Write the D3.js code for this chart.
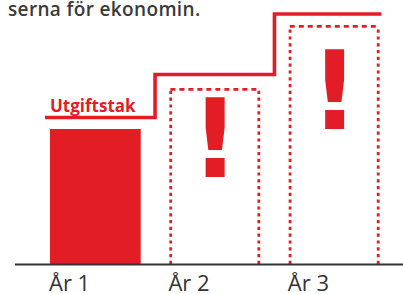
<!DOCTYPE html>
<html><head><meta charset="utf-8">
<script src="https://cdn.jsdelivr.net/npm/d3@7"></script>
<style>html,body{margin:0;padding:0;background:#fff;overflow:hidden}</style>
</head><body>
<svg id="c" width="403" height="294"></svg>
<script>
// ---- data ----
const title = "serna för ekonomin.";
const categories = ["År 1", "År 2", "År 3"];
const actualSpending = [54, null, null];          // solid bar (År 1)
const projectedSpending = [null, 70.4, 95.6];     // dotted outlines
const spendingCeiling = [58.6, 75.8, 100];        // Utgiftstak
const ceilingLabel = "Utgiftstak";
const warning = "!";

// ---- layout ----
const red = "#e31d25";
const svg = d3.select("#c");
const axisY = 264;
const x = d3.scaleBand().domain(categories).range([50, 379.5]).paddingInner(0.24).paddingOuter(0);
const y = d3.scaleLinear().domain([0, 100]).range([axisY, 14]);
const bw = x.bandwidth();
const exclaimDrop = [0, 10, 25];

// title
svg.append("text").attr("x", 8).attr("y", 15.5)
  .attr("font-family", "Open Sans").attr("font-weight", 600).attr("font-size", 19)
  .attr("letter-spacing", 0.35)
  .attr("fill", "#3a3a3a").text(title);

// solid bars
svg.selectAll("rect.bar").data(categories.map((c, i) => ({c, v: actualSpending[i]})).filter(d => d.v != null))
  .enter().append("rect").attr("class", "bar")
  .attr("x", d => x(d.c)).attr("width", bw)
  .attr("y", d => y(d.v)).attr("height", d => y(0) - y(d.v))
  .attr("fill", red);

// dotted projected boxes
const proj = categories.map((c, i) => ({c, v: projectedSpending[i], i})).filter(d => d.v != null);
const g = svg.selectAll("g.proj").data(proj).enter().append("g").attr("class", "proj");
g.append("path")
  .attr("d", d => `M${x(d.c) + 1.3},${y(0)} V${y(d.v) + 2}`)
  .attr("stroke", red).attr("stroke-width", 2.8).attr("fill", "none").attr("stroke-dasharray", "3.2,3.6");
g.append("path")
  .attr("d", d => `M${x(d.c) + bw - 1.3},${y(0)} V${y(d.v) + 2}`)
  .attr("stroke", red).attr("stroke-width", 2.8).attr("fill", "none").attr("stroke-dasharray", "3.2,3.6");
g.append("path")
  .attr("d", d => `M${x(d.c) + 1},${y(d.v) + 1.3} H${x(d.c) + bw}`)
  .attr("stroke", red).attr("stroke-width", 2.8).attr("fill", "none").attr("stroke-dasharray", "5,4");
g.append("text")
  .attr("x", d => x(d.c) + bw / 2 + 0.5)
  .attr("y", d => y(d.v) + exclaimDrop[d.i])
  .attr("dy", "0.73em")
  .attr("text-anchor", "middle")
  .attr("font-family", "DejaVu Sans").attr("font-weight", "bold").attr("font-size", 108)
  .attr("fill", red).text(warning);

// ceiling step line
const gap = x.step() - bw;
const pts = [];
categories.forEach((c, i) => {
  const x0 = i === 0 ? x(c) - 5 : x(c) - gap / 2;
  const x1 = i === categories.length - 1 ? x(c) + bw + 2 : x(c) + bw + gap / 2;
  pts.push([x0, y(spendingCeiling[i])], [x1, y(spendingCeiling[i])]);
});
svg.append("path").attr("d", d3.line()(pts))
  .attr("fill", "none").attr("stroke", red).attr("stroke-width", 3.6).attr("stroke-linejoin", "miter");

svg.append("text").attr("x", x(categories[0])).attr("y", y(spendingCeiling[0]) - 6)
  .attr("font-family", "Open Sans").attr("font-weight", 700).attr("font-size", 17)
  .attr("fill", red).text(ceilingLabel);

// axis
const axis = svg.append("g").attr("transform", `translate(0,${axisY})`)
  .call(d3.axisBottom(x).tickSize(0).tickPadding(0));
axis.select(".domain").remove();
axis.append("line").attr("x1", 15).attr("x2", 403).attr("y1", 0.5).attr("y2", 0.5)
  .attr("stroke", "#333").attr("stroke-width", 2);
axis.selectAll(".tick text")
  .attr("x", -bw / 2 - 1).attr("y", 26.5).attr("dy", 0)
  .attr("text-anchor", "start")
  .attr("font-family", "Open Sans").attr("font-size", 22).attr("fill", "#333");
</script>
</body></html>
